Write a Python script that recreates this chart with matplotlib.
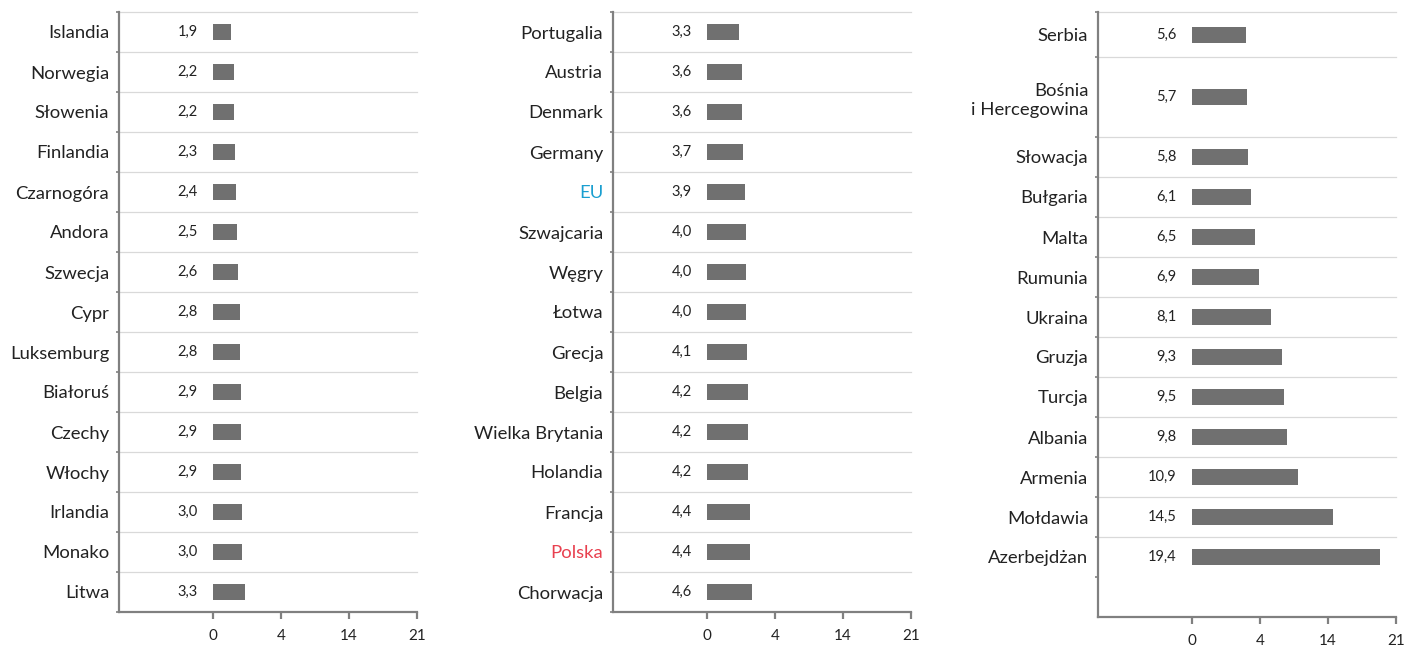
import numpy as np
import matplotlib
matplotlib.use("Agg")
import matplotlib.pyplot as plt

plt.rcParams['font.family'] = ['Lato', 'DejaVu Sans']

# ---------------- data ----------------
countries1 = ['Islandia', 'Norwegia', 'Słowenia', 'Finlandia', 'Czarnogóra', 'Andora',
              'Szwecja', 'Cypr', 'Luksemburg', 'Białoruś', 'Czechy', 'Włochy',
              'Irlandia', 'Monako', 'Litwa']
values1 = [1.9, 2.2, 2.2, 2.3, 2.4, 2.5, 2.6, 2.8, 2.8, 2.9, 2.9, 2.9, 3.0, 3.0, 3.3]

countries2 = ['Portugalia', 'Austria', 'Denmark', 'Germany', 'EU', 'Szwajcaria', 'Węgry',
              'Łotwa', 'Grecja', 'Belgia', 'Wielka Brytania', 'Holandia', 'Francja',
              'Polska', 'Chorwacja']
values2 = [3.3, 3.6, 3.6, 3.7, 3.9, 4.0, 4.0, 4.0, 4.1, 4.2, 4.2, 4.2, 4.4, 4.4, 4.6]

countries3 = ['Serbia', 'Bośnia\ni Hercegowina', 'Słowacja', 'Bułgaria', 'Malta', 'Rumunia',
              'Ukraina', 'Gruzja', 'Turcja', 'Albania', 'Armenia', 'Mołdawia', 'Azerbejdżan']
values3 = [5.6, 5.7, 5.8, 6.1, 6.5, 6.9, 8.1, 9.3, 9.5, 9.8, 10.9, 14.5, 19.4]

tick_values = [0, 7, 14, 21]
tick_labels = ['0', '4', '14', '21']

highlight = {'EU': '#1a9fd0', 'Polska': '#e8404f'}

# ---------------- style ----------------
W, H = 1410, 646
BAR = '#707070'
AXC = '#808080'
GRID = '#d9d9d9'
TXT = '#222222'

fig = plt.figure(figsize=(W / 100, H / 100), dpi=100)


def panel(px_left, px_right, px_top, px_bottom, names, values, heights, trailing=0.0):
    ax = fig.add_axes([px_left / W, (H - px_bottom) / H,
                       (px_right - px_left) / W, (px_bottom - px_top) / H])
    heights = np.asarray(heights, dtype=float)
    edges = np.concatenate([[0], np.cumsum(heights)])
    centers = (edges[:-1] + edges[1:]) / 2
    total = edges[-1] + trailing

    ax.barh(centers, values, height=0.4, color=BAR, zorder=3)
    for c, v in zip(centers, values):
        ax.annotate(f'{v:.1f}'.replace('.', ','), xy=(0, c), xytext=(-11, 0),
                    textcoords='offset points', ha='right', va='center',
                    fontsize=10.5, color=TXT)

    for e in edges[:-1]:
        ax.axhline(e, color=GRID, lw=0.9, zorder=1, clip_on=False)

    ax.set_xlim(-9.68, 21)
    ax.set_ylim(total, 0)

    ax.set_yticks(centers)
    ax.set_yticklabels(names, linespacing=1.3)
    ax.set_yticks(list(edges), minor=True)
    ax.tick_params(axis='y', which='major', length=0, pad=7, labelsize=13.3, labelcolor=TXT)
    ax.tick_params(axis='y', which='minor', length=2.5, width=1.2, color=AXC, direction='out')
    for tl in ax.get_yticklabels():
        if tl.get_text() in highlight:
            tl.set_color(highlight[tl.get_text()])

    ax.set_xticks(tick_values)
    ax.set_xticklabels(tick_labels)
    ax.tick_params(axis='x', length=5, width=1.6, color=AXC, pad=7, labelsize=11,
                   labelcolor=TXT)

    for s in ('top', 'right'):
        ax.spines[s].set_visible(False)
    for s in ('left', 'bottom'):
        ax.spines[s].set_color(AXC)
        ax.spines[s].set_linewidth(1.6)
    ax.set_facecolor('none')
    return ax


panel(119, 417, 12, 612, countries1, values1, [1.0] * len(countries1))
panel(613, 911, 12, 612, countries2, values2, [1.0] * len(countries2))
panel(1098, 1396, 12, 617, countries3, values3,
      [1.125, 2.0] + [1.0] * (len(countries3) - 2), trailing=1.0)

fig.savefig('out.png', dpi=100)
